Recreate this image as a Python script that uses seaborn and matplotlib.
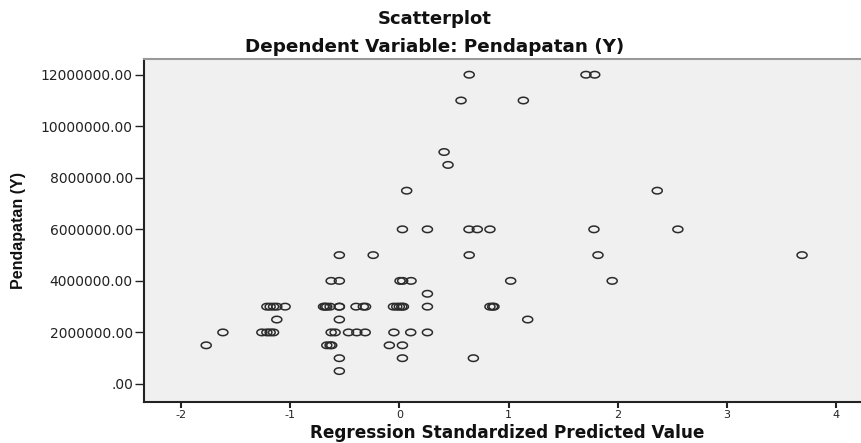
import numpy as np
import pandas as pd
import seaborn as sns
import matplotlib.pyplot as plt
from matplotlib.path import Path
from matplotlib.ticker import FixedLocator, FixedFormatter

# nilai prediksi terstandar (sumbu x) dan pendapatan (sumbu y)
pred_std = [
    -0.55, -0.24, 0.64, 1.82, 3.69,
    0.64, 1.71, 1.79,
    0.565, 1.136,
    0.41, 0.446,
    0.067, 2.363,
    0.028, 0.257, 0.638, 0.714, 0.83, 1.783, 2.552,
    -0.625, -0.55, 0.006, 0.03, 0.107, 1.02, 1.95,
    0.257,
    -1.214, -1.184, -1.153, -1.123, -1.047,
    -0.695, -0.68, -0.665, -0.635, -0.55, -0.55,
    -0.397, -0.33, -0.31,
    -0.054, -0.024, 0.0, 0.022, 0.037, 0.257,
    0.83, 0.855, 0.867,
    -1.123, -0.55, 1.176,
    -1.617, -1.26, -1.214, -1.184, -1.153, -0.625, -0.589,
    -0.466, -0.39, -0.313, -0.05, 0.104, 0.257,
    -1.77, -0.665, -0.635, -0.62, -0.092, 0.028,
    -0.55, 0.028, 0.678,
    -0.55,
]
pendapatan = [
    5e6, 5e6, 5e6, 5e6, 5e6,
    12e6, 12e6, 12e6,
    11e6, 11e6,
    9e6, 8.5e6,
    7.5e6, 7.5e6,
    6e6, 6e6, 6e6, 6e6, 6e6, 6e6, 6e6,
    4e6, 4e6, 4e6, 4e6, 4e6, 4e6, 4e6,
    3.5e6,
    3e6, 3e6, 3e6, 3e6, 3e6,
    3e6, 3e6, 3e6, 3e6, 3e6, 3e6,
    3e6, 3e6, 3e6,
    3e6, 3e6, 3e6, 3e6, 3e6, 3e6,
    3e6, 3e6, 3e6,
    2.5e6, 2.5e6, 2.5e6,
    2e6, 2e6, 2e6, 2e6, 2e6, 2e6, 2e6,
    2e6, 2e6, 2e6, 2e6, 2e6, 2e6,
    1.5e6, 1.5e6, 1.5e6, 1.5e6, 1.5e6, 1.5e6,
    1e6, 1e6, 1e6,
    0.5e6,
]
y_ticks = [0, 2e6, 4e6, 6e6, 8e6, 10e6, 12e6]
y_tick_labels = [".00", "2000000.00", "4000000.00", "6000000.00",
                 "8000000.00", "10000000.00", "12000000.00"]
x_ticks = [-2, -1, 0, 1, 2, 3, 4]

df = pd.DataFrame({"pred": pred_std, "y": pendapatan})

sns.set_style("white", {"axes.facecolor": "#F0F0F0"})
plt.rcParams["font.family"] = ["DejaVu Sans"]
plt.rcParams["axes.unicode_minus"] = False

fig = plt.figure(figsize=(8.61, 4.43), dpi=100)
ax = fig.add_axes([144 / 861, 1 - 402 / 443, 1 - 144 / 861, (402 - 59) / 443])

# lingkaran agak lonjong seperti di gambar asli
t = np.linspace(0, 2 * np.pi, 60)
oval = Path(np.column_stack([np.cos(t), 0.65 * np.sin(t)]), closed=True)

sns.scatterplot(data=df, x="pred", y="y", ax=ax, marker=oval, s=52,
                facecolor="none", edgecolor="#2b2b2b", linewidth=1.1)

ax.set_xlim(-2.34, 4.23)
ax.set_ylim(-0.70e6, 12.61e6)
ax.xaxis.set_major_locator(FixedLocator(x_ticks))
ax.yaxis.set_major_locator(FixedLocator(y_ticks))
ax.yaxis.set_major_formatter(FixedFormatter(y_tick_labels))

ax.tick_params(axis="y", direction="out", length=6.5, width=1, pad=1.5,
               labelsize=10, colors="#222222", left=True)
ax.tick_params(axis="x", direction="out", length=4.5, width=1.5, pad=1.5,
               labelsize=8, colors="#222222", bottom=True)

for side in ["left", "bottom"]:
    ax.spines[side].set_color("#222222")
    ax.spines[side].set_linewidth(1.5)
ax.spines["top"].set_color("#999999")
ax.spines["top"].set_linewidth(1.5)
ax.spines["right"].set_visible(False)

ax.set_xlabel("Regression Standardized Predicted Value", fontsize=12.2,
              fontweight="bold", color="#111111")
ax.xaxis.set_label_coords(0.507, -0.091)
ax.xaxis.label.set_va("center")

ax.set_ylabel("Pendapatan (Y)", fontsize=11.5, fontweight="bold",
              family=["Liberation Sans Narrow", "Liberation Sans"], color="#111111")
ax.yaxis.set_label_coords(-0.1757, 0.5)
ax.yaxis.label.set_va("center")

fig.text(435 / 861, 1 - 19 / 443, "Scatterplot", ha="center", va="center",
         fontsize=13, fontweight="bold", color="#111111")
fig.text(435 / 861, 1 - 47 / 443, "Dependent Variable: Pendapatan (Y)", ha="center",
         va="center", fontsize=13.2, fontweight="bold", color="#111111")

fig.savefig("out.png", dpi=100, facecolor="white")
